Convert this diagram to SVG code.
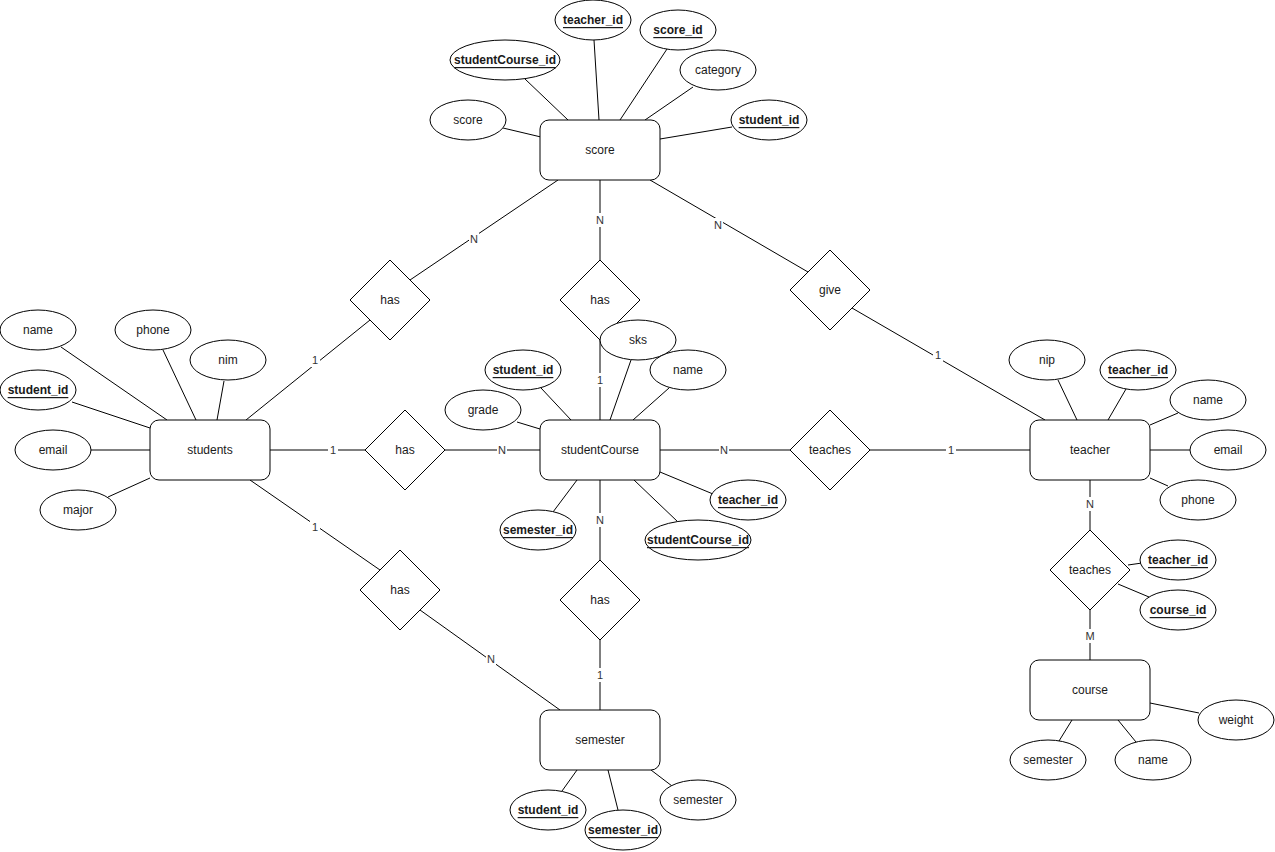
<svg xmlns="http://www.w3.org/2000/svg" width="1275" height="852" viewBox="0 0 1275 852">
<style>
.e{fill:#fff;stroke:#000;stroke-width:1}
.a{fill:#fff;stroke:#000;stroke-width:1}
.r{fill:#fff;stroke:#000;stroke-width:1}
.l{stroke:#000;stroke-width:1;fill:none}
text{font-family:"Liberation Sans",Arial,Helvetica,sans-serif;font-size:12px;fill:#1a1a1a;text-anchor:middle;dominant-baseline:central}
.k{font-weight:bold;text-decoration:underline}
.c{font-size:11px;fill:#333}
.lb{fill:#fff;stroke:none}
</style>
<rect width="1275" height="852" fill="#fff"/>
<g id="connectors">
<!-- score attrs -->
<line class="l" x1="503" y1="128" x2="541" y2="137"/>
<line class="l" x1="525" y1="79" x2="568" y2="120"/>
<line class="l" x1="594" y1="40" x2="599" y2="120"/>
<line class="l" x1="667" y1="49" x2="620" y2="120"/>
<line class="l" x1="693" y1="87" x2="645" y2="120"/>
<line class="l" x1="732" y1="127" x2="660" y2="139"/>
<!-- students attrs -->
<line class="l" x1="61" y1="347" x2="167" y2="420"/>
<line class="l" x1="163" y1="350" x2="196" y2="420"/>
<line class="l" x1="224" y1="381" x2="217" y2="420"/>
<line class="l" x1="72" y1="402" x2="150" y2="428"/>
<line class="l" x1="90" y1="450" x2="150" y2="450"/>
<line class="l" x1="108" y1="497" x2="150" y2="478"/>
<!-- studentCourse attrs -->
<line class="l" x1="631" y1="360" x2="610" y2="420"/>
<line class="l" x1="669" y1="388" x2="633" y2="420"/>
<line class="l" x1="541" y1="388" x2="571" y2="420"/>
<line class="l" x1="517" y1="422" x2="540" y2="429"/>
<line class="l" x1="713" y1="494" x2="660" y2="472"/>
<line class="l" x1="678" y1="522" x2="634" y2="480"/>
<line class="l" x1="553" y1="512" x2="577" y2="480"/>
<!-- teacher attrs -->
<line class="l" x1="1058" y1="380" x2="1077" y2="420"/>
<line class="l" x1="1126" y1="389" x2="1108" y2="420"/>
<line class="l" x1="1178" y1="413" x2="1150" y2="425"/>
<line class="l" x1="1150" y1="450" x2="1190" y2="450"/>
<line class="l" x1="1150" y1="478" x2="1168" y2="486"/>
<line class="l" x1="1128" y1="565" x2="1142" y2="563"/>
<line class="l" x1="1118" y1="584" x2="1149" y2="597"/>
<!-- course attrs -->
<line class="l" x1="1072" y1="720" x2="1059" y2="741"/>
<line class="l" x1="1118" y1="720" x2="1136" y2="742"/>
<line class="l" x1="1150" y1="703" x2="1199" y2="713"/>
<!-- semester attrs -->
<line class="l" x1="577" y1="770" x2="562" y2="791"/>
<line class="l" x1="608" y1="770" x2="618" y2="810"/>
<line class="l" x1="651" y1="770" x2="672" y2="786"/>
<!-- relationships -->
<line class="l" x1="410" y1="280" x2="558" y2="180"/>
<line class="l" x1="370" y1="320" x2="246" y2="420"/>
<line class="l" x1="600" y1="180" x2="600" y2="260"/>
<line class="l" x1="600" y1="340" x2="600" y2="420"/>
<line class="l" x1="650" y1="180" x2="808" y2="272"/>
<line class="l" x1="852" y1="308" x2="1045" y2="420"/>
<line class="l" x1="270" y1="450" x2="365" y2="450"/>
<line class="l" x1="445" y1="450" x2="540" y2="450"/>
<line class="l" x1="660" y1="450" x2="790" y2="450"/>
<line class="l" x1="870" y1="450" x2="1030" y2="450"/>
<line class="l" x1="250" y1="480" x2="380" y2="570"/>
<line class="l" x1="420" y1="610" x2="560" y2="710"/>
<line class="l" x1="600" y1="480" x2="600" y2="560"/>
<line class="l" x1="600" y1="640" x2="600" y2="710"/>
<line class="l" x1="1090" y1="480" x2="1090" y2="530"/>
<line class="l" x1="1090" y1="610" x2="1090" y2="660"/>
<!-- cardinality labels -->
<rect class="lb" x="469" y="232" width="10" height="14"/><text class="c" x="474" y="239">N</text>
<rect class="lb" x="595" y="213" width="10" height="14"/><text class="c" x="600" y="220">N</text>
<rect class="lb" x="713" y="218" width="10" height="14"/><text class="c" x="718" y="225">N</text>
<rect class="lb" x="933" y="348" width="10" height="14"/><text class="c" x="938" y="355">1</text>
<rect class="lb" x="310" y="353" width="10" height="14"/><text class="c" x="315" y="360">1</text>
<rect class="lb" x="595" y="373" width="10" height="14"/><text class="c" x="600" y="380">1</text>
<rect class="lb" x="328" y="443" width="10" height="14"/><text class="c" x="333" y="450">1</text>
<rect class="lb" x="497" y="443" width="10" height="14"/><text class="c" x="502" y="450">N</text>
<rect class="lb" x="719" y="443" width="10" height="14"/><text class="c" x="724" y="450">N</text>
<rect class="lb" x="946" y="443" width="10" height="14"/><text class="c" x="951" y="450">1</text>
<rect class="lb" x="310" y="520" width="10" height="14"/><text class="c" x="315" y="527">1</text>
<rect class="lb" x="486" y="652" width="10" height="14"/><text class="c" x="491" y="659">N</text>
<rect class="lb" x="595" y="513" width="10" height="14"/><text class="c" x="600" y="520">N</text>
<rect class="lb" x="595" y="668" width="10" height="14"/><text class="c" x="600" y="675">1</text>
<rect class="lb" x="1085" y="497" width="10" height="14"/><text class="c" x="1090" y="504">N</text>
<rect class="lb" x="1085" y="629" width="10" height="14"/><text class="c" x="1090" y="636">M</text>
</g>
<!-- entities -->
<g id="score"><rect class="r" x="540" y="120" width="120" height="60" rx="9"/><text x="600" y="150">score</text></g>
<g id="students"><rect class="r" x="150" y="420" width="120" height="60" rx="9"/><text x="210" y="450">students</text></g>
<g id="studentCourse"><rect class="r" x="540" y="420" width="120" height="60" rx="9"/><text x="600" y="450">studentCourse</text></g>
<g id="teacher"><rect class="r" x="1030" y="420" width="120" height="60" rx="9"/><text x="1090" y="450">teacher</text></g>
<g id="semester"><rect class="r" x="540" y="710" width="120" height="60" rx="9"/><text x="600" y="740">semester</text></g>
<g id="course"><rect class="r" x="1030" y="660" width="120" height="60" rx="9"/><text x="1090" y="690">course</text></g>
<!-- relationships -->
<g id="has_students_score"><polygon class="r" points="390,260 430,300 390,340 350,300"/><text x="390" y="300">has</text></g>
<g id="has_score_sc"><polygon class="r" points="600,260 640,300 600,340 560,300"/><text x="600" y="300">has</text></g>
<g id="give"><polygon class="r" points="830,250 870,290 830,330 790,290"/><text x="830" y="290">give</text></g>
<g id="has_students_sc"><polygon class="r" points="405,410 445,450 405,490 365,450"/><text x="405" y="450">has</text></g>
<g id="teaches_sc_teacher"><polygon class="r" points="830,410 870,450 830,490 790,450"/><text x="830" y="450">teaches</text></g>
<g id="has_students_semester"><polygon class="r" points="400,550 440,590 400,630 360,590"/><text x="400" y="590">has</text></g>
<g id="has_sc_semester"><polygon class="r" points="600,560 640,600 600,640 560,600"/><text x="600" y="600">has</text></g>
<g id="teaches_teacher_course"><polygon class="r" points="1090,530 1130,570 1090,610 1050,570"/><text x="1090" y="570">teaches</text></g>
<!-- score attributes -->
<g id="score_teacher_id"><ellipse class="e" cx="593" cy="20" rx="38" ry="20"/><text class="k" x="593" y="20">teacher_id</text></g>
<g id="score_score_id"><ellipse class="e" cx="678" cy="30" rx="38" ry="20"/><text class="k" x="678" y="30">score_id</text></g>
<g id="score_studentCourse_id"><ellipse class="e" cx="505" cy="60" rx="55" ry="20"/><text class="k" x="505" y="60">studentCourse_id</text></g>
<g id="score_category"><ellipse class="e" cx="718" cy="70" rx="38" ry="20"/><text x="718" y="70">category</text></g>
<g id="score_score"><ellipse class="e" cx="468" cy="120" rx="38" ry="20"/><text x="468" y="120">score</text></g>
<g id="score_student_id"><ellipse class="e" cx="769" cy="120" rx="38" ry="20"/><text class="k" x="769" y="120">student_id</text></g>
<!-- students attributes -->
<g id="students_name"><ellipse class="e" cx="38" cy="330" rx="38" ry="20"/><text x="38" y="330">name</text></g>
<g id="students_phone"><ellipse class="e" cx="153" cy="330" rx="38" ry="20"/><text x="153" y="330">phone</text></g>
<g id="students_nim"><ellipse class="e" cx="228" cy="360" rx="38" ry="20"/><text x="228" y="360">nim</text></g>
<g id="students_student_id"><ellipse class="e" cx="38" cy="390" rx="38" ry="20"/><text class="k" x="38" y="390">student_id</text></g>
<g id="students_email"><ellipse class="e" cx="53" cy="450" rx="38" ry="20"/><text x="53" y="450">email</text></g>
<g id="students_major"><ellipse class="e" cx="78" cy="510" rx="38" ry="20"/><text x="78" y="510">major</text></g>
<!-- studentCourse attributes -->
<g id="sc_sks"><ellipse class="e" cx="638" cy="340" rx="38" ry="20"/><text x="638" y="340">sks</text></g>
<g id="sc_name"><ellipse class="e" cx="688" cy="370" rx="38" ry="20"/><text x="688" y="370">name</text></g>
<g id="sc_student_id"><ellipse class="e" cx="523" cy="370" rx="38" ry="20"/><text class="k" x="523" y="370">student_id</text></g>
<g id="sc_grade"><ellipse class="e" cx="483" cy="410" rx="38" ry="20"/><text x="483" y="410">grade</text></g>
<g id="sc_teacher_id"><ellipse class="e" cx="748" cy="500" rx="38" ry="20"/><text class="k" x="748" y="500">teacher_id</text></g>
<g id="sc_studentCourse_id"><ellipse class="e" cx="698" cy="540" rx="53" ry="20"/><text class="k" x="698" y="540">studentCourse_id</text></g>
<g id="sc_semester_id"><ellipse class="e" cx="538" cy="530" rx="38" ry="20"/><text class="k" x="538" y="530">semester_id</text></g>
<!-- teacher attributes -->
<g id="teacher_nip"><ellipse class="e" cx="1047" cy="360" rx="38" ry="20"/><text x="1047" y="360">nip</text></g>
<g id="teacher_teacher_id"><ellipse class="e" cx="1138" cy="370" rx="38" ry="20"/><text class="k" x="1138" y="370">teacher_id</text></g>
<g id="teacher_name"><ellipse class="e" cx="1208" cy="400" rx="38" ry="20"/><text x="1208" y="400">name</text></g>
<g id="teacher_email"><ellipse class="e" cx="1228" cy="450" rx="38" ry="20"/><text x="1228" y="450">email</text></g>
<g id="teacher_phone"><ellipse class="e" cx="1198" cy="500" rx="38" ry="20"/><text x="1198" y="500">phone</text></g>
<g id="teaches_teacher_id"><ellipse class="e" cx="1178" cy="560" rx="38" ry="20"/><text class="k" x="1178" y="560">teacher_id</text></g>
<g id="teaches_course_id"><ellipse class="e" cx="1178" cy="610" rx="38" ry="20"/><text class="k" x="1178" y="610">course_id</text></g>
<!-- course attributes -->
<g id="course_semester"><ellipse class="e" cx="1048" cy="760" rx="38" ry="20"/><text x="1048" y="760">semester</text></g>
<g id="course_name"><ellipse class="e" cx="1153" cy="760" rx="38" ry="20"/><text x="1153" y="760">name</text></g>
<g id="course_weight"><ellipse class="e" cx="1236" cy="720" rx="38" ry="20"/><text x="1236" y="720">weight</text></g>
<!-- semester attributes -->
<g id="semester_student_id"><ellipse class="e" cx="548" cy="810" rx="38" ry="20"/><text class="k" x="548" y="810">student_id</text></g>
<g id="semester_semester_id"><ellipse class="e" cx="623" cy="830" rx="38" ry="20"/><text class="k" x="623" y="830">semester_id</text></g>
<g id="semester_semester"><ellipse class="e" cx="698" cy="800" rx="38" ry="20"/><text x="698" y="800">semester</text></g>
</svg>
